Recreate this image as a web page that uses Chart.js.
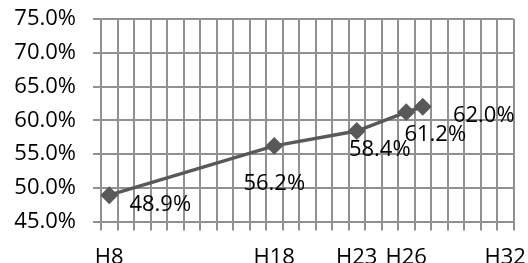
<!DOCTYPE html>
<html>
<head>
<meta charset="utf-8">
<script src="https://cdn.jsdelivr.net/npm/chart.js@4/dist/chart.umd.min.js"></script>
<style>
  html, body { margin: 0; padding: 0; background: #fff; }
  #wrap { width: 528px; height: 263px; }
</style>
</head>
<body>
<div id="wrap"><canvas id="rate" width="528" height="263"></canvas></div>
<script>
// years on the axis (H8 .. H32), one category per year
const firstYear = 8;
const lastYear = 32;
const axisYears = ['H8', 'H18', 'H23', 'H26', 'H32'];

// the series
const years = ['H8', 'H18', 'H23', 'H26', 'H27'];
const rates = [48.9, 56.2, 58.4, 61.2, 62.0];

// y axis
const yMin = 45, yMax = 75, yStep = 5;

// where each value label sits relative to its point (px)
const labelShift = [[51, 10], [0, 38], [23, 19], [29, 23], [61, 9]];

const cats = [];
for (let y = firstYear; y <= lastYear; y++) cats.push('H' + y);

const FONT = '"Open Sans", sans-serif';
const GRID = '#919191';

// keep the plot box where the layout padding puts it
function noPad(s) {
    s.paddingTop = 0;
    s.paddingBottom = 0;
    s.paddingLeft = 0;
    s.paddingRight = 0;
}

// draws the % labels next to the points
const valueLabels = {
    id: 'valueLabels',
    afterDatasetsDraw(chart) {
        const ctx = chart.ctx;
        const meta = chart.getDatasetMeta(0);
        ctx.save();
        ctx.font = '22px ' + FONT;
        ctx.fillStyle = '#000';
        ctx.textAlign = 'center';
        ctx.textBaseline = 'middle';
        meta.data.forEach((pt, i) => {
            const s = labelShift[i];
            ctx.fillText(rates[i].toFixed(1) + '%', pt.x + s[0], pt.y + s[1]);
        });
        ctx.restore();
    }
};

new Chart(document.getElementById('rate'), {
    type: 'line',
    data: {
        labels: cats,
        datasets: [{
            data: years.map((y, i) => ({ x: y, y: rates[i] })),
            borderColor: '#595959',
            backgroundColor: '#595959',
            borderWidth: 3.5,
            pointStyle: 'rectRot',
            pointRadius: 6.5,
            pointHoverRadius: 6.5,
            pointBackgroundColor: '#595959',
            pointBorderColor: '#595959',
            tension: 0
        }]
    },
    options: {
        responsive: false,
        animation: false,
        events: [],
        layout: { padding: { top: 19, right: 14.5, left: 0, bottom: 0 } },
        plugins: { legend: { display: false }, tooltip: { enabled: false } },
        scales: {
            x: {
                type: 'category',
                offset: true,
                grid: { offset: true, color: GRID, lineWidth: 2, tickLength: 9 },
                border: { color: GRID, width: 2 },
                ticks: {
                    autoSkip: false,
                    maxRotation: 0,
                    padding: 14,
                    color: '#000',
                    font: { family: FONT, size: 22 },
                    callback: function (v) {
                        const l = this.getLabelForValue(v);
                        return axisYears.includes(l) ? l : '';
                    }
                },
                afterFit: s => { s.height = 41.5; noPad(s); }
            },
            y: {
                min: yMin,
                max: yMax,
                grid: { color: GRID, lineWidth: 2, tickLength: 8 },
                border: { color: GRID, width: 2 },
                ticks: {
                    stepSize: yStep,
                    padding: 17,
                    color: '#000',
                    font: { family: FONT, size: 22 },
                    callback: v => v.toFixed(1) + '%'
                },
                afterFit: s => { s.width = 101; noPad(s); }
            }
        }
    },
    plugins: [valueLabels]
});
</script>
</body>
</html>
